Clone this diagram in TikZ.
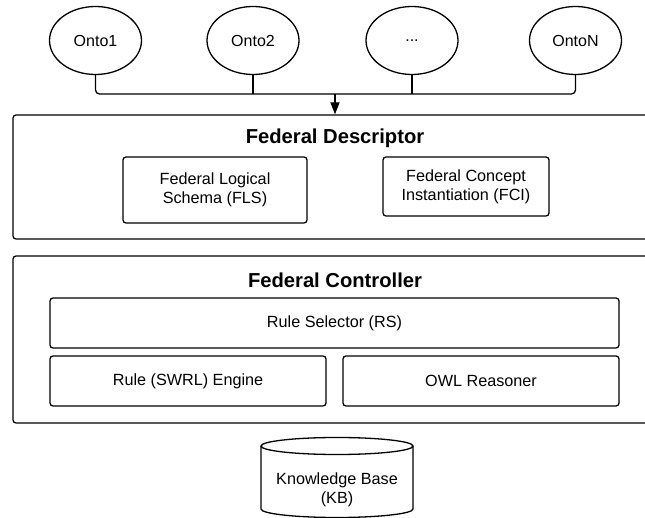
\documentclass[tikz,border=0pt]{standalone}
\usepackage{fontspec}
\setmainfont{Liberation Sans}
\usetikzlibrary{shapes.geometric,arrows.meta}
\begin{document}
\begin{tikzpicture}[x=1pt,y=-1pt,
  line width=1.3pt,
  onto/.style={ellipse,draw,minimum width=92pt,minimum height=68pt,inner sep=0pt,font=\fontsize{16}{19}\selectfont},
  outerbox/.style={draw,rounded corners=3pt,inner sep=0pt},
  innerbox/.style={draw,rounded corners=3pt,inner sep=0pt,align=center,font=\fontsize{16.2}{19}\selectfont},
  title/.style={font=\fontsize{20.2}{24}\selectfont\bfseries},
  kbtext/.style={align=center,font=\fontsize{16.2}{19}\selectfont}]
\useasboundingbox (0,0) rectangle (645,518);
\clip (0,0) rectangle (645,518);
\node[onto] (o1) at (95.5,40.5) {Onto1};
\node[onto] (o2) at (253,40.5) {Onto2};
\node[onto] (o3) at (412,40.5) {...};
\node[onto] (o4) at (575.5,40.5) {OntoN};
\coordinate (j) at (335,94);
\node[outerbox,minimum width=647pt,minimum height=124pt] (fd) at (336.5,177) {};
\node[title] (fdt) at (335,138) {Federal Descriptor};
\node[innerbox,minimum width=184pt,minimum height=66pt] (fls) at (215,190) {Federal Logical\\Schema (FLS)};
\node[innerbox,minimum width=166pt,minimum height=59pt] (fci) at (466,186.5) {Federal Concept\\Instantiation (FCI)};
\node[outerbox,minimum width=647pt,minimum height=167pt] (fc) at (336.5,339.5) {};
\node[title] (fct) at (335,280) {Federal Controller};
\node[innerbox,minimum width=569pt,minimum height=50pt] (rs) at (334.5,323) {Rule Selector (RS)};
\node[innerbox,minimum width=276pt,minimum height=50pt] (swrl) at (188,381) {Rule (SWRL) Engine};
\node[innerbox,minimum width=276pt,minimum height=50pt] (owl) at (481,381) {OWL Reasoner};
\draw (261,446) -- (261,509) arc[start angle=180,end angle=0,x radius=76,y radius=8.5] -- (413,446);
\draw (337,446) ellipse [x radius=76,y radius=8.5];
\node[kbtext] (kb) at (337,490) {Knowledge Base\\(KB)};
\draw[rounded corners=4pt] (o1.south) |- (j -| o4.south) -- (o4.south);
\draw (o2.south) -- (o2.south |- j);
\draw (o3.south) -- (o3.south |- j);
\draw[-{Triangle[width=9pt,length=12pt]}] (j) -- (j |- fd.north);
\end{tikzpicture}
\end{document}
